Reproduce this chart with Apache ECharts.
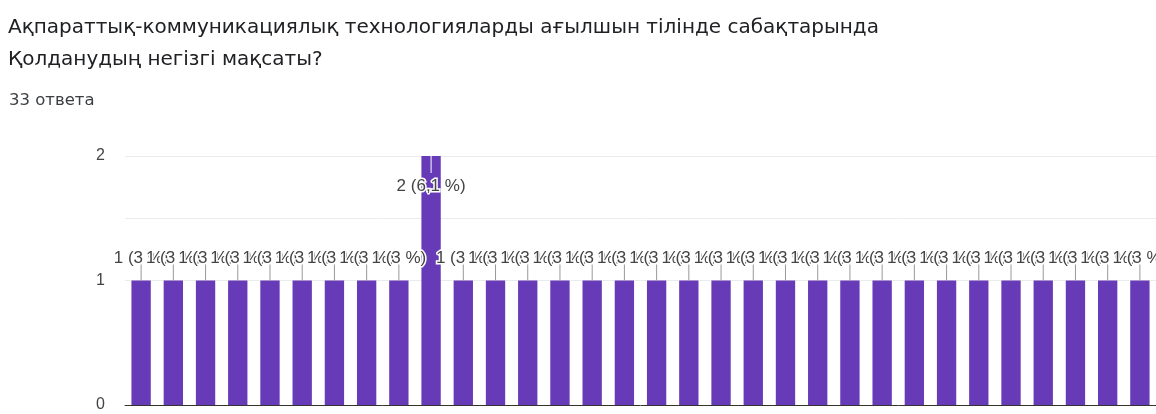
<!DOCTYPE html>
<html>
<head>
<meta charset="utf-8">
<script src="https://cdn.jsdelivr.net/npm/echarts@6/dist/echarts.min.js"></script>
<style>
html,body{margin:0;padding:0;background:#fff;}
#c{width:1156px;height:414px;}
</style>
</head>
<body>
<div id="c"></div>
<script>
const titleLines = ['Ақпараттық-коммуникациялық технологияларды ағылшын тілінде сабақтарында', 'Қолданудың негізгі мақсаты?'];
const responsesText = '33 ответа';
const totalResponses = 33;
const categories = ['1','2','3','4','5','6','7','8','9','10','11','12','13','14','15','16','17','18','19','20','21','22','23','24','25','26','27','28','29','30','31','32'];
const counts = [1,1,1,1,1,1,1,1,1,2,1,1,1,1,1,1,1,1,1,1,1,1,1,1,1,1,1,1,1,1,1,1];
const yTicks = [0, 1, 2];

function pctLabel(v) {
  let p = Math.round(v / totalResponses * 1000) / 10;
  let s = (p % 1 === 0) ? String(p) : p.toFixed(1).replace('.', ',');
  return v + ' (' + s + ' %)';
}
const maxV = Math.max.apply(null, counts);

const chart = echarts.init(document.getElementById('c'));
chart.setOption({
  animation: false,
  backgroundColor: '#fff',
  title: [
    {text: titleLines.join('\n'), left: 3, top: 7,
     textStyle: {fontFamily: 'DejaVu Sans', fontSize: 20, fontWeight: 'normal', color: '#202124', lineHeight: 32}},
    {text: responsesText, left: 4, top: 87,
     textStyle: {fontFamily: 'DejaVu Sans', fontSize: 16.5, fontWeight: 'normal', color: '#3c4043'}}
  ],
  grid: {left: 125, right: 0, top: 156, bottom: 9, containLabel: false},
  xAxis: {
    type: 'category', data: categories,
    axisLine: {show: true, lineStyle: {color: '#333', width: 1}},
    axisTick: {show: false}, axisLabel: {show: false}
  },
  yAxis: {
    type: 'value', min: 0, max: 2, interval: 0.5,
    axisLine: {show: false}, axisTick: {show: false},
    splitLine: {lineStyle: {color: ['#ffffff', '#ffffff', '#ebebeb', '#ebebeb', '#ebebeb'], width: 1}},
    axisLabel: {
      margin: 20, fontFamily: 'Arial, Liberation Sans', fontSize: 16, color: '#444',
      formatter: v => (yTicks.indexOf(v) >= 0 ? String(v) : '')
    }
  },
  series: [
    {
      type: 'bar', barWidth: '60%',
      data: counts.map(v => {
        const item = {value: v};
        if (v === maxV) {
          item.label = {position: 'insideTop', distance: 22};
        }
        return item;
      }),
      itemStyle: {color: '#673ab7'},
      label: {
        show: true, position: 'top', distance: 14,
        fontFamily: 'Arial, Liberation Sans', fontSize: 17, color: '#444',
        textBorderColor: '#fff', textBorderWidth: 3,
        formatter: p => pctLabel(p.value)
      },
      labelLayout: {hideOverlap: false},
      z: 2
    },
    {
      type: 'custom',
      data: counts.map((v, i) => [i, v]),
      renderItem: function (params, api) {
        const v = api.value(1);
        const pt = api.coord([api.value(0), v]);
        const inside = v === maxV;
        return {
          type: 'line',
          shape: {x1: pt[0], y1: pt[1], x2: pt[0], y2: inside ? pt[1] + 17 : pt[1] - 16},
          style: {stroke: inside ? '#fff' : '#999', lineWidth: 1}
        };
      },
      z: 3, silent: true
    }
  ]
});
</script>
</body>
</html>
